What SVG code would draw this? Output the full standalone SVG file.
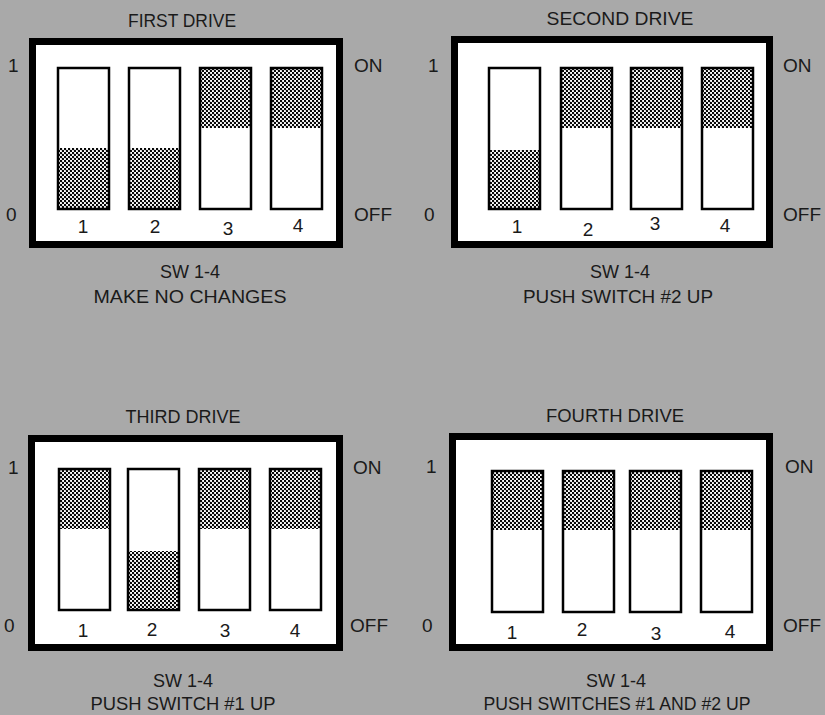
<svg xmlns="http://www.w3.org/2000/svg" width="825" height="715" viewBox="0 0 825 715">
<style>
text{font-family:"Liberation Sans",Arial,sans-serif;font-size:18px;fill:#1a1a1a;}
.c{text-anchor:middle;}
.n{font-size:19px;}
.frame{fill:#fff;stroke:#000;stroke-width:7;}
.sw{fill:#fff;}
.sh{fill:url(#dots);}
.ol{fill:none;stroke:#000;stroke-width:2.5;}
</style>
<defs>
<pattern id="dots" width="4" height="4" patternUnits="userSpaceOnUse">
<rect width="4" height="4" fill="#fff"/>
<circle cx="1" cy="1" r="1.2" fill="#000"/>
<circle cx="3" cy="3" r="1.2" fill="#000"/>
</pattern>
</defs>
<rect width="825" height="715" fill="#a9a9a9"/>

<g id="first-drive">
<text class="c" x="182" y="27" textLength="108" lengthAdjust="spacingAndGlyphs">FIRST DRIVE</text>
<rect class="frame" x="32.5" y="41.5" width="307" height="203"/>
<rect class="sw" x="58" y="68" width="51" height="141"/><rect class="sh" x="58" y="148" width="51" height="61"/><rect class="ol" x="58" y="68" width="51" height="141"/>
<rect class="sw" x="129" y="68" width="51" height="141"/><rect class="sh" x="129" y="148" width="51" height="61"/><rect class="ol" x="129" y="68" width="51" height="141"/>
<rect class="sw" x="200" y="68" width="51" height="141"/><rect class="sh" x="200" y="68" width="51" height="60"/><rect class="ol" x="200" y="68" width="51" height="141"/>
<rect class="sw" x="271" y="68" width="51" height="141"/><rect class="sh" x="271" y="68" width="51" height="60"/><rect class="ol" x="271" y="68" width="51" height="141"/>
<text class="c n" x="83" y="233">1</text><text class="c n" x="155" y="233">2</text><text class="c n" x="228" y="235">3</text><text class="c n" x="298" y="232">4</text>
<text class="n" x="8" y="72">1</text><text class="n" x="6" y="221">0</text>
<text class="n" x="354" y="72">ON</text><text class="n" x="354" y="221">OFF</text>
<text class="c" x="190" y="278">SW 1-4</text>
<text class="c" x="190" y="303" textLength="193" lengthAdjust="spacingAndGlyphs">MAKE NO CHANGES</text>
</g>

<g id="second-drive">
<text class="c" x="620" y="25" textLength="147" lengthAdjust="spacingAndGlyphs">SECOND DRIVE</text>
<rect class="frame" x="454.5" y="39.5" width="315" height="205"/>
<rect class="sw" x="489" y="68" width="51" height="141"/><rect class="sh" x="489" y="150" width="51" height="59"/><rect class="ol" x="489" y="68" width="51" height="141"/>
<rect class="sw" x="561" y="68" width="51" height="141"/><rect class="sh" x="561" y="68" width="51" height="60"/><rect class="ol" x="561" y="68" width="51" height="141"/>
<rect class="sw" x="631" y="68" width="51" height="141"/><rect class="sh" x="631" y="68" width="51" height="60"/><rect class="ol" x="631" y="68" width="51" height="141"/>
<rect class="sw" x="702" y="68" width="51" height="141"/><rect class="sh" x="702" y="68" width="51" height="60"/><rect class="ol" x="702" y="68" width="51" height="141"/>
<text class="c n" x="517" y="233">1</text><text class="c n" x="588" y="236">2</text><text class="c n" x="655" y="230">3</text><text class="c n" x="725" y="232">4</text>
<text class="n" x="428" y="72">1</text><text class="n" x="424" y="221">0</text>
<text class="n" x="783" y="72">ON</text><text class="n" x="783" y="221">OFF</text>
<text class="c" x="620" y="278">SW 1-4</text>
<text class="c" x="618" y="303" textLength="190" lengthAdjust="spacingAndGlyphs">PUSH SWITCH #2 UP</text>
</g>

<g id="third-drive">
<text class="c" x="183" y="423" textLength="115" lengthAdjust="spacingAndGlyphs">THIRD DRIVE</text>
<rect class="frame" x="31.5" y="438.5" width="308" height="209"/>
<rect class="sw" x="59" y="469" width="51" height="141"/><rect class="sh" x="59" y="469" width="51" height="60"/><rect class="ol" x="59" y="469" width="51" height="141"/>
<rect class="sw" x="128" y="469" width="51" height="141"/><rect class="sh" x="128" y="551" width="51" height="59"/><rect class="ol" x="128" y="469" width="51" height="141"/>
<rect class="sw" x="199" y="469" width="51" height="141"/><rect class="sh" x="199" y="469" width="51" height="60"/><rect class="ol" x="199" y="469" width="51" height="141"/>
<rect class="sw" x="270" y="469" width="51" height="141"/><rect class="sh" x="270" y="469" width="51" height="60"/><rect class="ol" x="270" y="469" width="51" height="141"/>
<text class="c n" x="83" y="637">1</text><text class="c n" x="152" y="636">2</text><text class="c n" x="225" y="637">3</text><text class="c n" x="295" y="637">4</text>
<text class="n" x="8" y="474">1</text><text class="n" x="4" y="632">0</text>
<text class="n" x="353" y="474">ON</text><text class="n" x="350" y="632">OFF</text>
<text class="c" x="183" y="687">SW 1-4</text>
<text class="c" x="183" y="710" textLength="185" lengthAdjust="spacingAndGlyphs">PUSH SWITCH #1 UP</text>
</g>

<g id="fourth-drive">
<text class="c" x="615" y="422" textLength="138" lengthAdjust="spacingAndGlyphs">FOURTH DRIVE</text>
<rect class="frame" x="452.5" y="436.5" width="317" height="211"/>
<rect class="sw" x="492" y="471" width="51" height="141"/><rect class="sh" x="492" y="471" width="51" height="59"/><rect class="ol" x="492" y="471" width="51" height="141"/>
<rect class="sw" x="563" y="471" width="51" height="141"/><rect class="sh" x="563" y="471" width="51" height="59"/><rect class="ol" x="563" y="471" width="51" height="141"/>
<rect class="sw" x="630" y="471" width="51" height="141"/><rect class="sh" x="630" y="471" width="51" height="59"/><rect class="ol" x="630" y="471" width="51" height="141"/>
<rect class="sw" x="701" y="471" width="51" height="141"/><rect class="sh" x="701" y="471" width="51" height="59"/><rect class="ol" x="701" y="471" width="51" height="141"/>
<text class="c n" x="512" y="639">1</text><text class="c n" x="582" y="636">2</text><text class="c n" x="656" y="640">3</text><text class="c n" x="730" y="638">4</text>
<text class="n" x="426" y="473">1</text><text class="n" x="422" y="632">0</text>
<text class="n" x="785" y="473">ON</text><text class="n" x="783" y="632">OFF</text>
<text class="c" x="616" y="687">SW 1-4</text>
<text class="c" x="617" y="710" textLength="267" lengthAdjust="spacingAndGlyphs">PUSH SWITCHES #1 AND #2 UP</text>
</g>

<g id="connectors"></g>
</svg>
